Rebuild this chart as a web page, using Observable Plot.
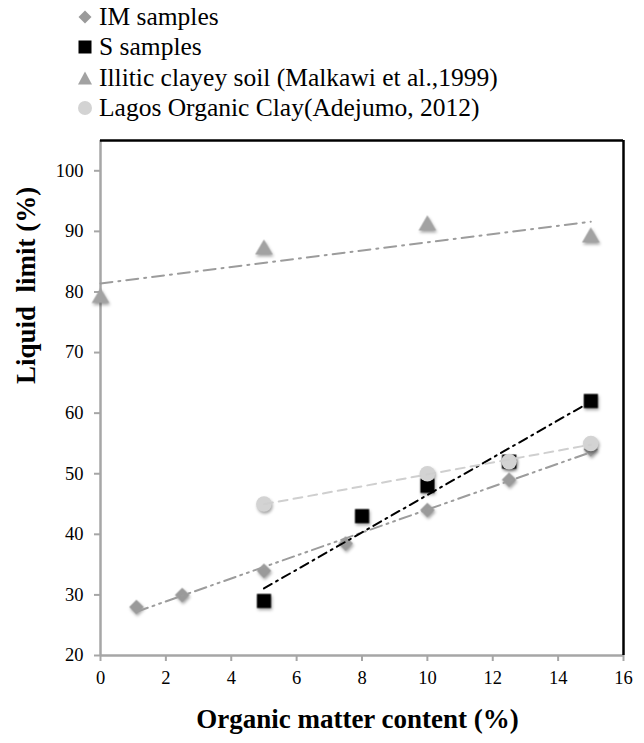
<!DOCTYPE html>
<html>
<head>
<meta charset="utf-8">
<script src="https://cdn.jsdelivr.net/npm/d3@7"></script>
<script src="https://cdn.jsdelivr.net/npm/@observablehq/plot@0.6"></script>
<style>
  html, body { margin: 0; padding: 0; background: #fff; }
  #legend { position: relative; height: 120px; width: 644px; font-family: "Liberation Serif", "Times New Roman", serif; font-size: 25.5px; color: #000; }
  .row { position: absolute; left: 77px; height: 30px; line-height: 30px; display: flex; align-items: center; white-space: nowrap; }
  .row svg { margin-right: 6px; }
  #chart svg { display: block; }
</style>
</head>
<body>
<div id="legend"></div>
<div id="chart"></div>
<script>
// Series names and colours
const seriesNames = ["IM samples", "S samples", "Illitic clayey soil (Malkawi et al.,1999)", "Lagos Organic Clay(Adejumo, 2012)"];
const seriesColors = ["#9a9a9a", "#000000", "#a2a2a2", "#d3d3d3"];

// Data (organic matter %, liquid limit %)
const omIM = [1.1, 2.5, 5, 7.5, 10, 12.5, 15];
const llIM = [28, 30, 34, 38.5, 44, 49, 54];
const omS = [5, 8, 10, 12.5, 15];
const llS = [29, 43, 48, 52, 62];
const omIll = [0, 5, 10, 15];
const llIll = [79, 87, 91, 89];
const omLag = [5, 10, 12.5, 15];
const llLag = [45, 50, 52, 55];

// Axis ticks
const xTicks = [0, 2, 4, 6, 8, 10, 12, 14, 16];
const yTicks = [20, 30, 40, 50, 60, 70, 80, 90, 100];

const zip = (xs, ys) => xs.map((x, i) => ({x, y: ys[i]}));
const IM = zip(omIM, llIM), S = zip(omS, llS), ILL = zip(omIll, llIll), LAG = zip(omLag, llLag);

// Legend
const legend = document.getElementById("legend");
const rowTops = [2, 32, 63, 93];
seriesNames.forEach((name, i) => {
  const row = document.createElement("div");
  row.className = "row";
  row.style.top = rowTops[i] + "px";
  const s = d3.create("svg").attr("width", 16).attr("height", 16);
  const c = seriesColors[i];
  if (i === 0) s.append("path").attr("d", "M8,1.5L14.5,8L8,14.5L1.5,8Z").attr("fill", c);
  if (i === 1) s.append("rect").attr("x", 1.5).attr("y", 1.5).attr("width", 13).attr("height", 13).attr("fill", c);
  if (i === 2) s.append("path").attr("d", "M8,1.5L15,14.5L1,14.5Z").attr("fill", c);
  if (i === 3) s.append("circle").attr("cx", 8).attr("cy", 8).attr("r", 7).attr("fill", c);
  row.appendChild(s.node());
  const t = document.createElement("span");
  t.textContent = name;
  row.appendChild(t);
  legend.appendChild(row);
});

const chart = Plot.plot({
  width: 644,
  height: 623,
  marginTop: 20,
  marginLeft: 100,
  marginRight: 21,
  marginBottom: 88,
  style: {fontFamily: "Liberation Serif, Times New Roman, serif", fontSize: "18.5px", color: "#000", background: "#fff"},
  x: {domain: [0, 16]},
  y: {domain: [20, 105]},
  marks: [
    Plot.axisX({ticks: xTicks, tickSize: 6, tickPadding: 9, stroke: "#a6a6a6", strokeWidth: 2, label: null, fill: "#000"}),
    Plot.axisY({ticks: yTicks, tickSize: 6, tickPadding: 11, stroke: "#a6a6a6", strokeWidth: 2, label: null, fill: "#000"}),
    Plot.ruleX([0], {stroke: "#a6a6a6", strokeWidth: 2.5}),
    Plot.ruleY([20], {stroke: "#a6a6a6", strokeWidth: 2.5}),
    Plot.ruleY([105], {stroke: "#000", strokeWidth: 2.5}),
    Plot.ruleX([16], {stroke: "#000", strokeWidth: 2.5}),
    Plot.dot(IM, {x: "x", y: "y", symbol: "square", rotate: 45, r: 5.8, fill: seriesColors[0], stroke: "none"}),
    Plot.dot(S, {x: "x", y: "y", symbol: "square", r: 8, fill: seriesColors[1], stroke: "none"}),
    Plot.dot(ILL, {x: "x", y: "y", symbol: "triangle", r: 6.5, fill: seriesColors[2], stroke: "none"}),
    Plot.dot(LAG, {x: "x", y: "y", symbol: "circle", r: 7.8, fill: seriesColors[3], stroke: "none"}),
    Plot.linearRegressionY(IM, {x: "x", y: "y", ci: 0, stroke: "#9c9c9c", strokeWidth: 2, strokeDasharray: "12,5,2,5,2,5"}),
    Plot.linearRegressionY(S, {x: "x", y: "y", ci: 0, stroke: "#000", strokeWidth: 2, strokeDasharray: "9,5,2,5"}),
    Plot.linearRegressionY(ILL, {x: "x", y: "y", ci: 0, stroke: "#9c9c9c", strokeWidth: 2, strokeDasharray: "12,6,2,6"}),
    Plot.linearRegressionY(LAG, {x: "x", y: "y", ci: 0, stroke: "#cfcfcf", strokeWidth: 2, strokeDasharray: "9,6"}),
    Plot.text(["Liquid  limit (%)"], {frameAnchor: "left", dx: -74, dy: -14, rotate: -90, fontSize: 27, fontWeight: "bold", fill: "#000"}),
    Plot.text(["Organic matter content (%)"], {frameAnchor: "bottom", dx: -4.5, dy: 72, fontSize: 27, fontWeight: "bold", fill: "#000"})
  ]
});
d3.select(chart).selectAll('g[aria-label="dot"]').style("filter", "drop-shadow(1px 2px 1.5px rgba(0,0,0,0.35))");
document.getElementById("chart").appendChild(chart);
</script>
</body>
</html>
